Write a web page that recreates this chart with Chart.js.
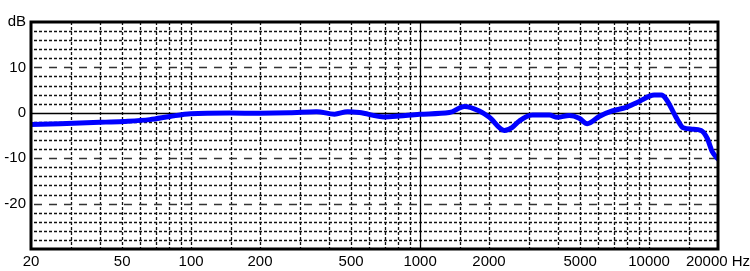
<!DOCTYPE html>
<html>
<head>
<meta charset="utf-8">
<script src="https://cdn.jsdelivr.net/npm/chart.js@4/dist/chart.umd.min.js"></script>
<style>
  html, body { margin: 0; padding: 0; background: #fff; }
  #wrap { width: 750px; height: 271px; }
</style>
</head>
<body>
<div id="wrap"><canvas id="c" width="750" height="271"></canvas></div>
<script>
// Frequency (Hz) and level (dB)
const freqs = [20, 26.8, 40, 50.4, 66, 80.8, 99.7, 147.5, 199, 269, 353, 423, 482, 544, 700, 813, 995, 1343, 1563, 1816, 2008, 2335, 2529, 2714, 3092, 3668, 3975, 4483, 4956, 5371, 6060, 6905, 7944, 9055, 10526, 11300, 11880, 13130, 14090, 15420, 16880, 17930, 18850, 20000];
const levels = [-2.6, -2.4, -2.1, -1.9, -1.5, -0.8, -0.2, -0.05, -0.1, 0.0, 0.25, -0.3, 0.25, 0.05, -0.9, -0.7, -0.3, 0.05, 1.4, 0.4, -1.0, -3.9, -3.2, -1.8, -0.5, -0.5, -1.0, -0.6, -1.2, -2.4, -0.8, 0.4, 1.2, 2.5, 3.9, 3.9, 3.0, -1.0, -3.3, -3.6, -3.9, -5.6, -8.5, -10.2];

// Axis ticks / labels
const xTickValues = [20, 50, 100, 200, 500, 1000, 2000, 5000, 10000, 20000];
const xTickLabels = ['20', '50', '100', '200', '500', '1000', '2000', '5000', '10000', '20000 Hz'];
const yTickValues = [20, 10, 0, -10, -20];
const yTickLabels = ['dB', '10', '0', '-10', '-20'];

// Grid positions
const xGridMinor = [30, 40, 50, 60, 70, 80, 90, 100, 150, 200, 300, 400, 500, 600, 700, 800, 900, 1500, 2000, 3000, 4000, 5000, 6000, 7000, 8000, 9000, 10000, 15000];
const xGridSolid = [1000];
const yGridMinor = [18, 16, 14, 12, 8, 6, 4, 2, -2, -4, -6, -8, -12, -14, -16, -18, -22, -24, -26, -28];
const yGridMajor = [10, -10, -20];
const yGridSolid = [0];

const points = freqs.map((f, i) => ({ x: f, y: levels[i] }));

const gridPlugin = {
  id: 'gridPlugin',
  beforeDatasetsDraw(chart) {
    const { ctx, chartArea: a, scales: { x, y } } = chart;
    ctx.save();
    ctx.beginPath();
    ctx.rect(a.left, a.top, a.right - a.left, a.bottom - a.top);
    ctx.clip();
    ctx.strokeStyle = '#111';
    ctx.lineWidth = 1.3;
    ctx.setLineDash([3, 2]);
    yGridMinor.forEach(v => {
      const py = Math.round(y.getPixelForValue(v)) + 0.5;
      ctx.beginPath(); ctx.moveTo(a.left + 3, py); ctx.lineTo(a.right, py); ctx.stroke();
    });
    ctx.setLineDash([3, 2]);
    xGridMinor.forEach(v => {
      const px = Math.round(x.getPixelForValue(v)) + 0.5;
      ctx.beginPath(); ctx.moveTo(px, a.top); ctx.lineTo(px, a.bottom); ctx.stroke();
    });
    ctx.setLineDash([8, 7]);
    ctx.strokeStyle = '#333';
    yGridMajor.forEach(v => {
      const py = Math.round(y.getPixelForValue(v)) + 0.5;
      ctx.beginPath(); ctx.moveTo(a.left + 3, py); ctx.lineTo(a.right, py); ctx.stroke();
    });
    ctx.setLineDash([]);
    ctx.strokeStyle = '#000';
    ctx.lineWidth = 1.3;
    yGridSolid.forEach(v => {
      const py = Math.round(y.getPixelForValue(v)) + 0.5;
      ctx.beginPath(); ctx.moveTo(a.left, py); ctx.lineTo(a.right, py); ctx.stroke();
    });
    xGridSolid.forEach(v => {
      const px = Math.round(x.getPixelForValue(v)) + 0.5;
      ctx.beginPath(); ctx.moveTo(px, a.top); ctx.lineTo(px, a.bottom); ctx.stroke();
    });
    ctx.restore();
  },
  afterDatasetsDraw(chart) {
    const { ctx, chartArea: a } = chart;
    ctx.save();
    ctx.strokeStyle = '#000';
    ctx.lineWidth = 3;
    ctx.setLineDash([]);
    ctx.strokeRect(a.left, a.top, a.right - a.left, a.bottom - a.top);
    ctx.restore();
  }
};

const font = { family: '"Liberation Sans", Arial, Helvetica, sans-serif', size: 15 };

new Chart(document.getElementById('c'), {
  type: 'line',
  data: {
    datasets: [{
      data: points,
      borderColor: '#0000ff',
      borderWidth: 5,
      pointRadius: 0,
      fill: false,
      cubicInterpolationMode: 'monotone',
      borderCapStyle: 'round',
      borderJoinStyle: 'round'
    }]
  },
  options: {
    responsive: false,
    animation: false,
    devicePixelRatio: 1,
    layout: { padding: { top: 22, right: 32, left: 0, bottom: 0 } },
    plugins: { legend: { display: false }, tooltip: { enabled: false } },
    scales: {
      x: {
        type: 'logarithmic',
        min: 20, max: 20000,
        grid: { display: false, drawTicks: false },
        border: { display: false },
        afterBuildTicks(scale) { scale.ticks = xTickValues.map(v => ({ value: v })); },
        afterFit(scale) { scale.height = 22; scale.paddingLeft = 0; scale.paddingRight = 0; },
        ticks: {
          autoSkip: false, maxRotation: 0, minRotation: 0, padding: 4,
          color: '#000', font,
          callback(value) { const i = xTickValues.indexOf(value); return i >= 0 ? xTickLabels[i] : ''; }
        }
      },
      y: {
        type: 'linear',
        min: -30, max: 20,
        grid: { display: false, drawTicks: false },
        border: { display: false },
        afterBuildTicks(scale) { scale.ticks = yTickValues.map(v => ({ value: v })); },
        afterFit(scale) { scale.width = 31; scale.paddingTop = 0; scale.paddingBottom = 0; },
        ticks: {
          autoSkip: false, padding: 5, color: '#000', font,
          callback(value) { const i = yTickValues.indexOf(value); return i >= 0 ? yTickLabels[i] : ''; }
        }
      }
    }
  },
  plugins: [gridPlugin]
});
</script>
</body>
</html>
